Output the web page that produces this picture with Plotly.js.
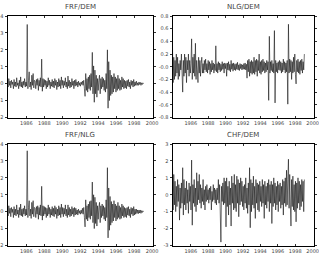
<!DOCTYPE html>
<html><head><meta charset="utf-8">
<script src="https://cdn.plot.ly/plotly-3.0.1.min.js"></script>
<style>html,body{margin:0;padding:0;background:#fff;}#plot{width:319px;height:255px;}</style>
</head><body><div id="plot"></div>
<script>
// time axis: weekly-ish sampling (years)
const T0 = 1983.9, T1 = 1999.05;
const titles = ["FRF/DEM", "NLG/DEM", "FRF/NLG", "CHF/DEM"];
const xTickVals = [1986, 1988, 1990, 1992, 1994, 1996, 1998, 2000];
const xTickText = ["1986", "1988", "1990", "1992", "1994", "1996", "1998", "2000"];

const frfDem = [
0.05,-0.2,0.3,-0.1,0.15,-0.25,0.2,-0.05,0.1,-0.3,0.25,-0.15,0.1,-0.2,
0.35,-0.1,0.05,-0.3,0.2,-0.15,0.4,-0.2,0.1,-0.25,0.15,-0.1,0.3,-0.2,
0.1,-0.15,3.5,-0.3,0.2,0.7,-0.2,0.1,-0.35,0.5,-0.1,0.6,-0.25,0.2,
0.15,-0.3,0.25,-0.1,0.3,-0.4,0.2,-0.15,0.35,-0.2,1.45,-0.45,0.3,-0.2,
0.25,-0.1,0.2,-0.3,0.15,-0.2,0.35,-0.1,0.2,-0.3,0.1,-0.15,0.25,-0.2,
0.15,-0.25,0.3,-0.1,0.2,-0.35,0.1,-0.2,0.3,-0.15,0.2,-0.3,0.4,-0.1,
0.2,-0.25,0.15,-0.1,0.35,-0.2,0.1,-0.3,0.45,-0.15,0.2,-0.25,0.1,-0.2,
0.3,-0.1,0.15,-0.3,0.2,-0.15,0.25,-0.1,0.1,-0.2,0.15,-0.1,0.05,-0.15,
0.1,-0.05,0.15,-0.1,0.2,-0.3,-0.75,0.6,-0.4,0.3,-0.5,0.4,-0.3,0.5,
-0.4,0.6,-0.2,1.85,-0.6,1.05,-1.1,0.8,-0.6,0.5,-0.8,0.3,-0.4,0.2,
0.5,-0.6,0.3,-0.3,0.4,-0.2,0.3,-0.4,0.2,-0.5,0.6,-0.3,2.0,-1.45,
1.3,-1.0,0.8,-0.7,0.5,-0.6,0.4,-0.5,0.6,-0.3,0.4,-0.5,0.3,-0.4,
0.5,-0.3,0.3,-0.4,0.2,-0.35,0.4,-0.2,0.3,-0.3,0.2,-0.25,0.15,-0.3,
0.2,-0.15,0.25,-0.2,0.1,-0.3,0.2,-0.1,0.15,-0.2,0.25,-0.15,0.1,-0.1,
0.15,-0.1,0.05,-0.1,0.1,-0.05,0.08,-0.1,0.05,-0.05,0.05,0.0];

const nlgDem = [
0.3,-0.25,0.15,-0.2,0.1,-0.15,0.2,-0.1,0.15,-0.2,0.05,-0.15,0.1,-0.05,
0.2,-0.1,-0.4,0.1,-0.15,0.2,-0.1,0.15,-0.25,0.1,-0.05,0.2,-0.15,0.1,
-0.1,0.05,0.44,-0.2,0.15,-0.1,0.2,-0.15,0.37,-0.2,0.1,-0.05,-0.25,0.15,
-0.1,0.1,-0.15,0.05,0.15,-0.1,0.05,-0.1,0.1,-0.05,0.12,-0.08,0.05,-0.1,
0.1,-0.05,0.08,-0.12,0.05,-0.08,0.1,-0.05,0.06,-0.1,0.04,-0.06,0.33,-0.08,
0.05,-0.1,0.08,-0.05,0.06,-0.08,0.04,-0.06,0.08,-0.04,0.05,-0.1,0.06,-0.03,
0.05,-0.15,0.06,-0.05,0.08,-0.06,0.04,-0.08,0.1,-0.04,0.05,-0.07,0.06,-0.05,
0.04,-0.06,0.05,-0.04,0.07,-0.05,0.03,-0.06,0.05,-0.03,0.04,-0.05,0.03,-0.04,
0.05,-0.04,0.06,-0.05,0.04,-0.18,0.1,-0.08,0.12,-0.15,0.08,-0.1,0.1,-0.12,
0.08,-0.1,0.15,-0.12,0.1,-0.08,0.12,-0.15,0.1,-0.06,0.2,-0.1,0.08,-0.12,
0.1,-0.08,0.12,-0.06,0.08,-0.1,0.06,-0.08,0.1,-0.05,0.08,-0.53,0.48,-0.1,
0.08,-0.06,0.1,-0.08,0.05,-0.1,0.57,-0.57,0.1,-0.08,0.06,-0.1,0.08,-0.05,
0.1,-0.06,0.08,-0.1,0.06,-0.08,0.12,-0.05,0.08,-0.1,0.06,-0.08,0.1,-0.59,
0.67,-0.1,0.12,-0.08,0.1,-0.2,0.08,-0.1,0.15,-0.08,0.2,-0.12,-0.27,0.1,
-0.08,0.12,-0.1,0.08,-0.12,0.1,-0.06,0.12,-0.1,0.08,-0.05,0.2];

const frfNlg = [
0.1,-0.25,0.35,-0.1,0.2,-0.3,0.25,-0.05,0.15,-0.35,0.3,-0.2,0.15,-0.25,
0.4,-0.15,0.1,-0.35,0.25,-0.2,0.45,-0.25,0.15,-0.3,0.2,-0.15,0.35,-0.25,
0.15,-0.2,3.6,-0.35,0.25,0.65,-0.25,0.15,-0.4,0.55,-0.15,0.65,-0.3,0.25,
0.2,-0.35,0.3,-0.15,0.35,-0.45,0.25,-0.2,0.4,-0.25,1.5,-0.5,0.35,-0.25,
0.3,-0.15,0.25,-0.35,0.2,-0.25,0.4,-0.15,0.25,-0.35,0.15,-0.2,0.3,-0.25,
0.2,-0.3,0.35,-0.15,0.25,-0.4,0.15,-0.25,0.35,-0.2,0.25,-0.35,0.45,-0.15,
0.25,-0.3,0.2,-0.15,0.4,-0.25,0.15,-0.35,0.4,-0.2,0.25,-0.3,0.15,-0.25,
0.3,-0.15,0.2,-0.3,0.25,-0.2,0.2,-0.15,0.1,-0.2,0.15,-0.1,0.05,-0.15,
0.1,-0.1,0.2,-0.15,0.25,-0.35,-0.9,0.7,-0.45,0.35,-0.55,0.45,-0.35,0.6,
-0.45,0.65,-0.25,1.75,-0.65,1.0,-1.0,0.85,-0.7,0.55,-0.85,0.35,-0.45,0.25,
0.55,-0.65,0.35,-0.35,0.45,-0.25,0.35,-0.45,0.25,-0.55,0.7,-0.35,2.6,-1.55,
1.4,-1.1,0.9,-0.8,0.6,-0.65,0.45,-0.55,0.65,-0.35,0.45,-0.55,0.35,-0.45,
0.55,-0.35,0.35,-0.45,0.25,-0.4,0.45,-0.25,0.35,-0.35,0.25,-0.3,0.2,-0.35,
0.25,-0.2,0.3,-0.25,0.15,-0.35,0.25,-0.15,0.2,-0.25,0.3,-0.2,0.15,-0.15,
0.15,-0.1,0.1,-0.12,0.1,-0.08,0.1,-0.1,0.06,-0.05,0.05,0.0];

const chfDem = [
1.7,-0.9,1.2,-0.6,0.8,-1.0,0.5,-0.7,0.9,-0.4,0.6,-1.5,0.4,-0.8,
0.7,-0.5,1.6,-1.2,0.9,-0.6,0.4,-0.9,0.8,-0.5,0.3,-1.1,0.7,-0.4,
0.5,-0.9,2.05,-1.8,0.6,-0.5,0.9,-0.7,0.4,-1.0,1.3,-0.6,0.8,-0.3,
1.2,-0.5,0.6,-0.8,0.4,-0.4,0.9,-0.6,0.3,-0.9,0.5,-0.4,0.6,-0.3,
0.3,-0.5,0.4,-0.3,0.5,-0.9,0.2,-0.4,0.6,-0.3,0.4,-0.5,0.3,-0.6,
0.4,-0.3,0.9,-0.5,0.6,-0.8,-2.8,0.5,-0.4,0.7,-0.6,1.0,-0.5,0.8,
-1.9,1.0,-0.7,0.5,-1.2,0.8,-0.6,0.4,-1.85,1.1,-0.5,0.7,-0.9,1.2,
-0.8,0.6,-1.0,1.1,-0.5,0.9,-1.3,0.7,-0.6,1.0,-0.4,0.8,-0.7,0.5,
-0.9,0.6,-0.5,1.0,-0.8,0.4,-1.1,0.7,-0.6,1.6,-1.95,0.9,-1.0,0.7,
-0.6,1.1,-0.8,0.5,-1.4,0.9,-0.5,0.7,-0.9,0.6,-1.0,0.8,-0.4,0.5,
-0.7,0.9,-0.5,0.6,-1.4,0.8,-0.6,0.5,-0.8,0.7,-0.4,0.9,-1.0,0.6,
-0.5,0.8,-1.7,0.6,-0.7,1.0,-0.5,0.7,-0.9,0.5,-0.6,0.8,-1.0,0.6,
-0.4,0.7,-0.8,0.5,-0.6,0.9,-1.2,0.8,-0.5,1.0,-0.7,1.45,-0.6,0.9,
2.1,-0.8,1.2,-0.6,-1.85,0.9,-0.7,1.1,-0.9,0.6,-1.0,0.8,-1.6,0.7,
-0.8,1.0,-0.5,0.8,-0.9,0.6,-0.7,0.9,-0.4,0.8,-1.0,0.9];

const yTicks1 = [-2,-1,0,1,2,3,4];
const yText1 = ["-2","-1","0","1","2","3","4"];
const yTicks2 = [-0.8,-0.6,-0.4,-0.2,0,0.2,0.4,0.6,0.8];
const yText2 = ["-0.8","-0.6","-0.4","-0.2","-0.0","0.2","0.4","0.6","0.8"];
const yTicks4 = [-3,-2,-1,0,1,2,3];
const yText4 = ["-3","-2","-1","0","1","2","3"];

const series = [frfDem, nlgDem, frfNlg, chfDem];
const W = 319, H = 255;
// panel frames in pixels [x0,x1,y0(top),y1(bottom)]
const frames = [[7.5,153,16,117.5],[172.5,313.5,16,117.5],[7.5,153,144,245.5],[172.5,313.5,144,245.5]];
const yRanges = [[-2,4],[-0.8,0.8],[-2,4],[-3,3]];
const yTV = [yTicks1, yTicks2, yTicks1, yTicks4];
const yTT = [yText1, yText2, yText1, yText4];

const traces = [], layout = {width:W, height:H, margin:{l:0,r:0,t:0,b:0}, showlegend:false,
  paper_bgcolor:'#fff', plot_bgcolor:'#fff', annotations:[], font:{family:'DejaVu Sans', color:'#222'}};

series.forEach((vals, k) => {
  const n = vals.length;
  const xs = vals.map((_, i) => T0 + i * (T1 - T0) / (n - 1));
  const ax = k === 0 ? '' : String(k + 1);
  traces.push({x: xs, y: vals, type:'scatter', mode:'lines', xaxis:'x'+ax, yaxis:'y'+ax,
    line:{color:'#000', width:0.55}, hoverinfo:'skip'});
  const f = frames[k];
  const common = {showgrid:false, zeroline:false, showline:true, linecolor:'#000', linewidth:1,
    mirror:'allticks', tickcolor:'#000', ticklen:2, tickwidth:0.8,
    tickfont:{size:5, color:'#444', family:'DejaVu Sans'}};
  layout['xaxis'+ax] = Object.assign({}, common, {domain:[f[0]/W, f[1]/W], range:[1983.9, 2000.1],
    anchor:'y'+ax, tickvals:xTickVals, ticktext:xTickText, ticks:'inside'});
  layout['yaxis'+ax] = Object.assign({}, common, {domain:[1-f[3]/H, 1-f[2]/H], range:yRanges[k],
    anchor:'x'+ax, tickvals:yTV[k], ticktext:yTT[k], ticks:'outside'});
  layout.annotations.push({text:titles[k], xref:'paper', yref:'paper', x:((f[0]+f[1])/2)/W,
    y:1-(f[2]-9)/H, xanchor:'center', yanchor:'middle', showarrow:false,
    font:{size:7, color:'#444', family:'DejaVu Sans'}});
});

Plotly.newPlot('plot', traces, layout, {staticPlot:true, displayModeBar:false});
</script></body></html>
